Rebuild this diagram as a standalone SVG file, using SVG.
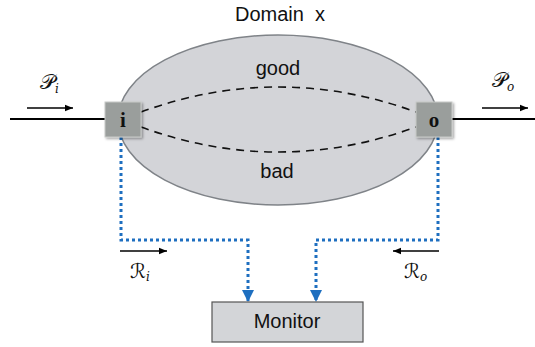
<svg xmlns="http://www.w3.org/2000/svg" width="535" height="347" viewBox="0 0 535 347">
<style>
.lbl{font-family:"Liberation Sans",Arial,sans-serif;font-size:20px;fill:#111;text-anchor:middle}
.math{font-family:"DejaVu Serif","DejaVu Sans","Liberation Serif",serif;fill:#111}
.port{fill:#9a9e9c;stroke:#c8cac8;stroke-width:1;filter:url(#sh)}
.plabel{font-family:"Liberation Serif",serif;font-weight:bold;font-size:21px;fill:#111;text-anchor:middle}
.wire{stroke:#000;stroke-width:2;fill:none}
.arr{stroke:#000;stroke-width:1.5;fill:none;marker-end:url(#ah)}
.dash{stroke:#111;stroke-width:1.6;fill:none;stroke-dasharray:8,6}
.dot{stroke:#1e6fc0;stroke-width:3;fill:none;stroke-dasharray:3,3;marker-end:url(#bh)}
</style>
<defs>
<marker id="ah" viewBox="0 0 10 10" refX="10" refY="5" markerWidth="8" markerHeight="8" markerUnits="userSpaceOnUse" orient="auto"><path d="M0,1 L10,5 L0,9 z" fill="#000"/></marker>
<marker id="bh" viewBox="0 0 12 12" refX="6" refY="12" markerWidth="12" markerHeight="12" markerUnits="userSpaceOnUse" orient="0"><path d="M0,0 L12,0 L6,12 z" fill="#1e6fc0"/></marker>
<filter id="sh" x="-20%" y="-20%" width="150%" height="150%"><feDropShadow dx="1.5" dy="1.5" stdDeviation="1" flood-color="#000" flood-opacity="0.35"/></filter>
</defs>
<text class="lbl" x="280" y="21" xml:space="preserve">Domain  x</text>
<g id="domain">
<ellipse cx="278" cy="120" rx="160" ry="85" fill="#d3d4d8" stroke="#7f8388" stroke-width="1.5"/>
<text class="lbl" x="278" y="75">good</text>
<text class="lbl" x="277" y="178">bad</text>
</g>
<g id="connectors">
<line class="wire" x1="10" y1="119" x2="105" y2="119"/>
<line class="wire" x1="452" y1="119" x2="535" y2="119"/>
<path class="dash" d="M141,112 Q278,62 416,112"/>
<path class="dash" d="M141,127 Q278,177 416,127"/>
<path class="dot" d="M121,137 V240 H248 V302"/>
<path class="dot" d="M438,137 V240 H316 V302"/>
<line class="arr" x1="27" y1="108" x2="73" y2="108"/>
<line class="arr" x1="482" y1="108" x2="528" y2="108"/>
<line class="arr" x1="120" y1="251" x2="167" y2="251"/>
<line class="arr" x1="439" y1="251" x2="393" y2="251"/>
</g>
<g id="labels">
<text class="math" x="40" y="89" font-size="21">𝒫<tspan font-size="12" font-style="italic" dy="4">i</tspan></text>
<text class="math" x="492" y="87" font-size="21">𝒫<tspan font-size="12" font-style="italic" dy="4">o</tspan></text>
<text class="math" x="130" y="278" font-size="20">ℛ<tspan font-size="12" font-style="italic" dy="3">i</tspan></text>
<text class="math" x="404" y="278" font-size="20">ℛ<tspan font-size="12" font-style="italic" dy="3">o</tspan></text>
</g>
<g id="port-i">
<rect class="port" x="105" y="102" width="36" height="35"/>
<text class="plabel" x="123" y="127">i</text>
</g>
<g id="port-o">
<rect class="port" x="416" y="102" width="36" height="35"/>
<text class="plabel" x="434" y="127">o</text>
</g>
<g id="monitor">
<rect x="212" y="302" width="151" height="40" fill="#d3d5d8" stroke="#555" stroke-width="1.2"/>
<text class="lbl" x="287" y="328" font-size="18.5">Monitor</text>
</g>
</svg>
